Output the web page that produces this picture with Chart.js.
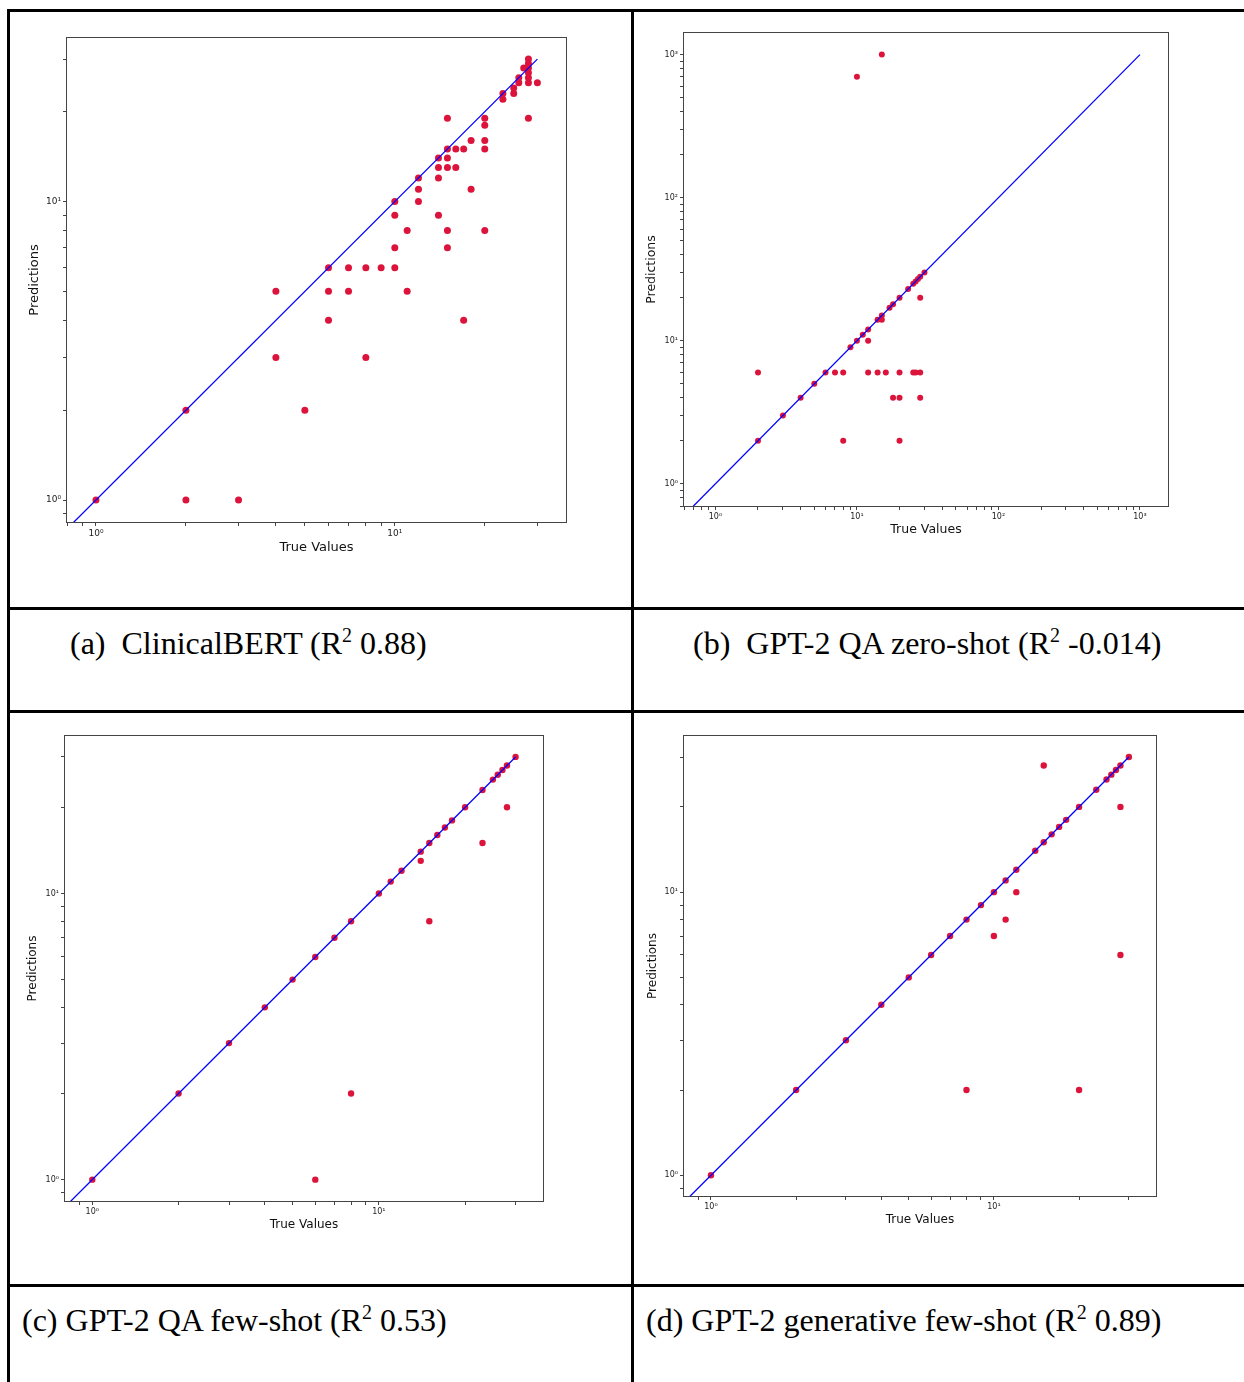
<!DOCTYPE html>
<html>
<head>
<meta charset="utf-8">
<script src="https://cdn.jsdelivr.net/npm/chart.js@4.4.1/dist/chart.umd.min.js"></script>
<style>
body { margin:0; background:#fff; width:1244px; height:1382px; overflow:hidden; position:relative; }
.rule { position:absolute; background:#000; }
.cap { position:absolute; font-family:"Liberation Serif","Times New Roman",serif; font-size:32px; line-height:32px; color:#000; white-space:nowrap; }
.cap sup { font-size:20px; line-height:0; vertical-align:12px; }
canvas { position:absolute; }
</style>
</head>
<body>
<!-- table rules -->
<div class="rule" style="left:7px;top:9px;width:1237px;height:3px"></div>
<div class="rule" style="left:7px;top:607px;width:1237px;height:3px"></div>
<div class="rule" style="left:7px;top:710px;width:1237px;height:3px"></div>
<div class="rule" style="left:7px;top:1284px;width:1237px;height:3px"></div>
<div class="rule" style="left:7px;top:9px;width:3px;height:1373px"></div>
<div class="rule" style="left:631px;top:9px;width:3px;height:1373px"></div>

<canvas id="chartA"></canvas>
<canvas id="chartB"></canvas>
<canvas id="chartC"></canvas>
<canvas id="chartD"></canvas>

<div class="cap" style="left:70px;top:627px">(a)&nbsp; ClinicalBERT (R<sup>2</sup> 0.88)</div>
<div class="cap" style="left:693px;top:627px">(b)&nbsp; GPT-2 QA zero-shot (R<sup>2</sup> -0.014)</div>
<div class="cap" style="left:22px;top:1304px">(c) GPT-2 QA few-shot (R<sup>2</sup> 0.53)</div>
<div class="cap" style="left:646px;top:1304px">(d) GPT-2 generative few-shot (R<sup>2</sup> 0.89)</div>

<script>
// (a) ClinicalBERT
var trueA = [1,2,2,3,4,4,5,6,6,6,7,7,8,8,9,10,10,10,10,11,11,12,12,12,14,14,14,14,15,15,15,15,15,15,16,16,17,17,18,18,20,20,20,20,20,23,23,25,25,26,26,27,28,28,28,28,28,28,28,30];
var predA = [1,2,1,1,5,3,2,6,5,4,6,5,6,3,6,10,9,7,6,8,5,12,11,10,14,13,12,9,19,15,14,13,8,7,15,13,15,4,16,11,19,18,16,15,8,23,22,24,23,26,25,28,30,29,28,27,26,25,19,25];

// (b) GPT-2 QA zero-shot
var trueB = [15,10,2,3,4,5,6,9,10,11,12,14,15,15,17,18,20,23,25,26,27,28,30,12,28,2,7,8,12,14,16,20,25,26,28,18,20,28,8,20];
var predB = [1000,700,2,3,4,5,6,9,10,11,12,14,14,15,17,18,20,23,25,26,27,28,30,10,20,6,6,6,6,6,6,6,6,6,6,4,4,4,2,2];

// (c) GPT-2 QA few-shot
var trueC = [1,2,3,4,5,6,7,8,10,11,12,14,15,16,17,18,20,23,25,26,27,28,30,14,15,23,28,8,6];
var predC = [1,2,3,4,5,6,7,8,10,11,12,14,15,16,17,18,20,23,25,26,27,28,30,13,8,15,20,2,1];

// (d) GPT-2 generative few-shot
var trueD = [1,2,3,4,5,6,7,8,9,10,11,12,14,15,16,17,18,20,23,25,26,27,28,30,15,28,12,11,10,28,8,20];
var predD = [1,2,3,4,5,6,7,8,9,10,11,12,14,15,16,17,18,20,23,25,26,27,28,30,28,20,10,8,7,6,2,2];

// y = x reference lines (start is below the axis, gets clipped)
var lineA = [0.1, 30];
var lineB = [0.1, 1000];
var lineC = [0.1, 30];
var lineD = [0.1, 30];

var tickLabels = ['10⁰', '10¹', '10²', '10³'];

function logTicks(scale) {
  var out = [];
  for (var e = Math.floor(Math.log10(scale.min)); e <= Math.ceil(Math.log10(scale.max)); e++) {
    for (var m = 1; m < 10; m++) {
      var v = m * Math.pow(10, e);
      if (v >= scale.min && v <= scale.max) out.push({value: v});
    }
  }
  scale.ticks = out;
}

function tickLabel(v) {
  var e = Math.log10(v);
  var r = Math.round(e);
  if (Math.abs(e - r) < 1e-9 && r >= 0 && r < tickLabels.length) return tickLabels[r];
  return '';
}

var framePlugin = {
  id: 'frame',
  afterDraw: function(chart) {
    var a = chart.chartArea, ctx = chart.ctx;
    ctx.save();
    ctx.strokeStyle = '#444';
    ctx.lineWidth = 1;
    ctx.strokeRect(a.left - 0.5, a.top - 0.5, a.right - a.left + 1, a.bottom - a.top + 1);
    ctx.restore();
  }
};

function axis(min, max, title, size, tickSize, pad, horizontal, space) {
  return {
    type: 'logarithmic',
    min: min,
    max: max,
    afterBuildTicks: logTicks,
    afterFit: function(s) { if (horizontal) s.height = space; else s.width = space; },
    border: { display: false },
    grid: { drawOnChartArea: false, drawTicks: true, tickLength: 4, tickColor: '#444' },
    ticks: { autoSkip: false, maxRotation: 0, padding: 2, color: '#222',
             font: { family: 'DejaVu Sans', size: tickSize }, callback: tickLabel },
    title: { display: true, text: title, color: '#111',
             font: { family: 'DejaVu Sans', size: size }, padding: pad }
  };
}

function makeChart(id, g, xs, ys, line) {
  var padL = 62, padT = 8, padR = 8, padB = 40;
  var el = document.getElementById(id);
  var bw = g.box[2] - g.box[0], bh = g.box[3] - g.box[1];
  el.width = padL + bw + padR;
  el.height = padT + bh + padB;
  el.style.left = (g.box[0] - padL) + 'px';
  el.style.top = (g.box[1] - padT) + 'px';
  var lh = g.titleSize * 1.2;
  var yPad = g.predX - (g.box[0] - padL) - lh / 2;
  var xPad = (g.box[3] + padB) - g.trueY - lh / 2;

  new Chart(el, {
    type: 'scatter',
    data: {
      datasets: [
        { data: line.map(function(v) { return {x: v, y: v}; }), showLine: true,
          borderColor: '#0000ff', borderWidth: 1.3, pointRadius: 0 },
        { data: xs.map(function(v, i) { return {x: v, y: ys[i]}; }),
          pointBackgroundColor: '#dc143c', pointBorderColor: '#dc143c', pointBorderWidth: 0,
          pointRadius: g.r }
      ]
    },
    options: {
      responsive: false,
      animation: false,
      events: [],
      layout: { padding: { left: 0, top: padT, right: padR, bottom: 0 } },
      plugins: { legend: { display: false }, tooltip: { enabled: false } },
      scales: {
        x: axis(g.x[0], g.x[1], 'True Values', g.titleSize, g.tickSize, {top: 0, bottom: xPad}, true, padB),
        y: axis(g.y[0], g.y[1], 'Predictions', g.titleSize, g.tickSize, {top: yPad, bottom: 0}, false, padL)
      }
    },
    plugins: [framePlugin]
  });
}

makeChart('chartA', { box: [67, 38, 566, 522], x: [0.80, 37.4], y: [0.844, 35.3],
  predX: 35, trueY: 548, titleSize: 13, tickSize: 9, r: 3.5 }, trueA, predA, lineA);
makeChart('chartB', { box: [684, 33, 1168, 506], x: [0.634, 1578], y: [0.702, 1416],
  predX: 652, trueY: 530, titleSize: 12.5, tickSize: 8, r: 3 }, trueB, predB, lineB);
makeChart('chartC', { box: [65, 736, 543, 1201], x: [0.803, 37.4], y: [0.842, 35.5],
  predX: 33, trueY: 1225, titleSize: 12, tickSize: 8, r: 3.2 }, trueC, predC, lineC);
makeChart('chartD', { box: [684, 736, 1156, 1196], x: [0.803, 37.4], y: [0.845, 35.6],
  predX: 653, trueY: 1220, titleSize: 12, tickSize: 8, r: 3.2 }, trueD, predD, lineD);
</script>
</body>
</html>
